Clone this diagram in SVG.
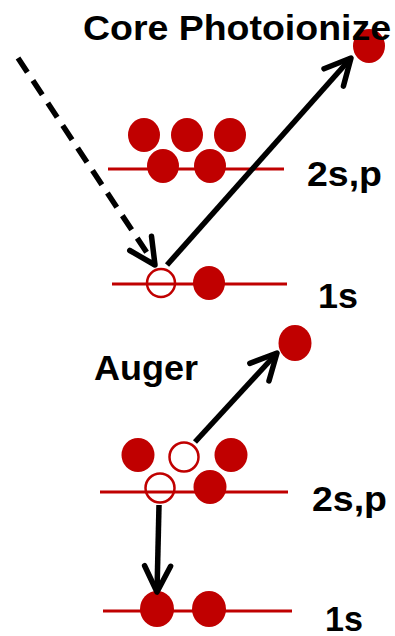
<svg xmlns="http://www.w3.org/2000/svg" width="395" height="636" viewBox="0 0 395 636">
<defs>
<style>
.lvl{stroke:#C00000;stroke-width:3;fill:none}
.e{fill:#C00000}
.h{fill:none;stroke:#C00000;stroke-width:2.5}
.lbl{font-family:"Liberation Sans",Arial,sans-serif;font-weight:bold;font-size:35px;fill:#000}
.arr{stroke:#000;stroke-width:5.5;fill:none}
.dash{stroke-dasharray:17 10}
</style>
<marker id="ah" markerUnits="userSpaceOnUse" orient="auto" markerWidth="60" markerHeight="60" viewBox="-30 -30 60 60" refX="0" refY="0" overflow="visible">
<path d="M-26,-13 L0,0 L-26,13" fill="none" stroke="#000" stroke-width="5.5" stroke-linecap="round" stroke-linejoin="round"/>
</marker>
</defs>
<rect width="395" height="636" fill="#fff"/>

<g id="photo-2sp">
<line class="lvl" x1="108" y1="169" x2="284" y2="169"/>
<ellipse class="e" cx="144" cy="135" rx="16" ry="17"/>
<ellipse class="e" cx="187" cy="135" rx="16" ry="17"/>
<ellipse class="e" cx="230" cy="135" rx="16" ry="17"/>
<ellipse class="e" cx="163" cy="166" rx="16" ry="17"/>
<ellipse class="e" cx="210" cy="166" rx="16" ry="17"/>
<text class="lbl" x="307" y="186" textLength="75" lengthAdjust="spacingAndGlyphs">2s,p</text>
</g>
<g id="photo-1s">
<line class="lvl" x1="112" y1="284" x2="287" y2="284"/>
<circle class="h" cx="161" cy="283" r="14"/>
<ellipse class="e" cx="209" cy="283" rx="16" ry="17"/>
<text class="lbl" x="318" y="308" textLength="40" lengthAdjust="spacingAndGlyphs">1s</text>
</g>
<g id="photoelectron">
<ellipse class="e" cx="369" cy="46" rx="16" ry="17"/>
</g>
<g id="title-core">
<text class="lbl" x="83" y="40" textLength="308" lengthAdjust="spacingAndGlyphs">Core Photoionize</text>
</g>

<g id="auger-2sp">
<line class="lvl" x1="100" y1="492" x2="288" y2="492"/>
<ellipse class="e" cx="138" cy="455" rx="16.5" ry="17"/>
<circle class="h" cx="184" cy="457" r="14.5"/>
<ellipse class="e" cx="231" cy="455" rx="16.5" ry="17"/>
<circle class="h" cx="160" cy="488" r="14.5"/>
<ellipse class="e" cx="210" cy="487" rx="16.5" ry="17"/>
<text class="lbl" x="312" y="511" textLength="75" lengthAdjust="spacingAndGlyphs">2s,p</text>
</g>
<g id="auger-1s">
<line class="lvl" x1="103" y1="611" x2="292" y2="611"/>
<ellipse class="e" cx="157" cy="609" rx="17" ry="18"/>
<ellipse class="e" cx="209" cy="609" rx="17" ry="18"/>
<text class="lbl" x="325" y="631" textLength="38" lengthAdjust="spacingAndGlyphs">1s</text>
</g>
<g id="auger-electron">
<ellipse class="e" cx="295" cy="343" rx="16.5" ry="18"/>
</g>
<g id="title-auger">
<text class="lbl" x="94" y="380" textLength="104" lengthAdjust="spacingAndGlyphs">Auger</text>
</g>

<g id="connectors">
<line class="arr dash" x1="18" y1="58" x2="155" y2="265" marker-end="url(#ah)"/>
<line class="arr" x1="167" y1="265" x2="351" y2="58" marker-end="url(#ah)"/>
<line class="arr" x1="195" y1="442" x2="277" y2="353" marker-end="url(#ah)"/>
<line class="arr" x1="159" y1="505" x2="157" y2="592" marker-end="url(#ah)"/>
</g>
</svg>
